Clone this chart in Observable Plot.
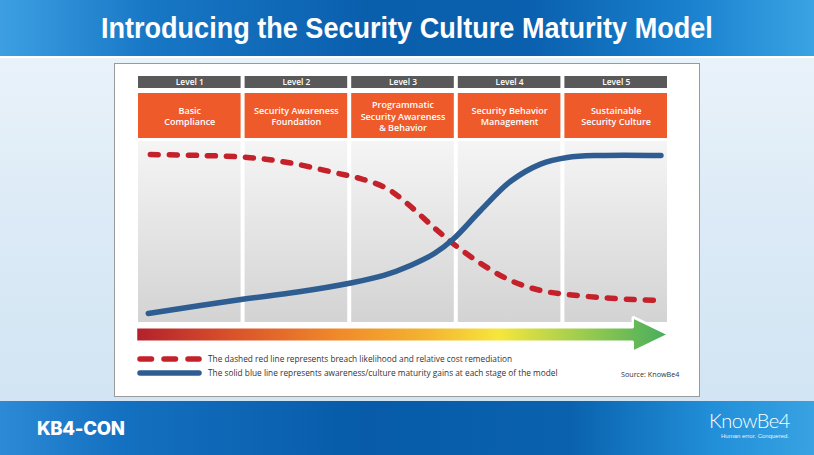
<!DOCTYPE html>
<html>
<head>
<meta charset="utf-8">
<script src="https://cdn.jsdelivr.net/npm/d3@7"></script>
<script src="https://cdn.jsdelivr.net/npm/@observablehq/plot@0.6"></script>
<style>
  html, body { margin:0; padding:0; }
  body { width:814px; height:455px; overflow:hidden; position:relative;
    background: linear-gradient(180deg, #eef5fb 0%, #dbeaf6 50%, #cfe3f2 100%);
    font-family: "Open Sans", "Liberation Sans", sans-serif; }
  #header { position:absolute; left:0; top:0; width:814px; height:56px;
    background: linear-gradient(90deg, #3d9fe2 0%, #1878c6 18%, #0a5fad 45%, #0a60ae 65%, #1a82cf 85%, #3aa3e3 100%);
    border-bottom: 2px solid #ffffff; }
  #title { position:absolute; left:0; top:10px; width:814px; text-align:center; color:#fff;
    font-family:"Liberation Sans Narrow","Liberation Sans", Arial, sans-serif; font-weight:bold; font-size:29px; line-height:36px; white-space:nowrap; }
  #title span { display:inline-block; transform-origin:center center; }
  #card { position:absolute; left:114px; top:63px; width:584px; height:332px; background:#fff; border:1px solid #9a9a9a; }
  .layer { position:absolute; left:116px; }
  .layer svg { display:block; }
  #legend { position:absolute; left:137px; top:351px; font-size:8.3px; color:#333; }
  .lrow { position:absolute; left:0; white-space:nowrap; height:14px; }
  .lrow svg { position:absolute; left:0; top:0; }
  .lrow span { position:absolute; left:71px; top:0px; line-height:14px; }
  #source { position:absolute; left:621px; top:369px; font-size:7.2px; color:#333; white-space:nowrap; }
  #footer { position:absolute; left:0; top:401px; width:814px; height:54px;
    background: linear-gradient(90deg, #2c8ad6 0%, #1470c0 15%, #075ba8 45%, #0a62ae 70%, #2290d9 88%, #38a2e2 100%); }
  #kb4 { position:absolute; left:37px; top:16px; color:#fff; font-family:"Inter","Liberation Sans",sans-serif; font-weight:800; font-size:18.5px; letter-spacing:-0.3px; }
  #kb { position:absolute; left:709px; top:7px; color:#fff; font-family:"Lato","Liberation Sans",sans-serif; font-weight:300; font-size:20px; line-height:24px; letter-spacing:-0.5px; }
  #kbsub { position:absolute; left:721px; top:32px; color:#e6f2fb; font-family:"Liberation Sans Narrow","Liberation Sans",sans-serif; font-size:6px; line-height:7px; white-space:nowrap; }
</style>
</head>
<body>
<div id="header"><div id="title"><span id="titletext">Introducing the Security Culture Maturity Model</span></div></div>
<div id="card"></div>
<div class="layer" id="levelsRow" style="top:76px"></div>
<div class="layer" id="stagesRow" style="top:93px"></div>
<div class="layer" id="panelsRow" style="top:141px"></div>
<div class="layer" id="arrowRow" style="top:317px"></div>
<div id="legend">
  <div class="lrow" style="top:1px">
    <svg width="66" height="14"><line x1="3" y1="7" x2="62" y2="7" stroke="#c4212b" stroke-width="5.5" stroke-linecap="round" stroke-dasharray="11.5,12.5"/></svg>
    <span>The dashed red line represents breach likelihood and relative cost remediation</span>
  </div>
  <div class="lrow" style="top:15px">
    <svg width="66" height="14"><line x1="3" y1="7" x2="62" y2="7" stroke="#2e5d92" stroke-width="5.5" stroke-linecap="round"/></svg>
    <span>The solid blue line represents awareness/culture maturity gains at each stage of the model</span>
  </div>
</div>
<div id="source">Source: KnowBe4</div>
<div id="footer">
  <div id="kb4">KB4-CON</div>
  <div id="kb">KnowBe4</div>
  <div id="kbsub">Human error. Conquered.</div>
</div>
<script>
// ---- data ----
const levels = ["Level 1", "Level 2", "Level 3", "Level 4", "Level 5"];
const stages = ["Basic\nCompliance", "Security Awareness\nFoundation", "Programmatic\nSecurity Awareness\n& Behavior", "Security Behavior\nManagement", "Sustainable\nSecurity Culture"];
// x position in level units (0..5), y in relative units (0..100)
const breachX = [0.13, 0.60, 1.04, 1.42, 1.85, 2.13, 2.35, 2.54, 2.79, 2.97, 3.23, 3.51, 3.79, 4.04, 4.35, 4.66, 4.89];
const breachY = [92.8, 92.3, 91.2, 88.4, 82.9, 79.0, 74.0, 65.7, 52.5, 43.6, 32.6, 23.2, 17.7, 15.5, 13.8, 12.7, 12.2];
const maturityX = [0.11, 0.98, 1.51, 2.01, 2.32, 2.57, 2.79, 2.97, 3.23, 3.51, 3.79, 4.04, 4.35, 4.92];
const maturityY = [5.0, 12.7, 16.8, 21.8, 26.0, 31.5, 38.0, 46.0, 62.0, 78.0, 87.5, 91.2, 92.3, 92.3];
// progress arrow outline (level units, relative half-height)
const arrowX  = [0, 4.66, 4.66, 5];
const arrowLo = [-0.41, -0.41, -1, 0];
const arrowHi = [0.41, 0.41, 1, 0];

const idx = levels.map((_, i) => i);
const breach = breachX.map((x, i) => ({x, y: breachY[i]}));
const maturity = maturityX.map((x, i) => ({x, y: maturityY[i]}));
const arrow = arrowX.map((x, i) => ({x, lo: arrowLo[i], hi: arrowHi[i]}));

const W = 583, ML = 20, MR = 30;
const base = {width: W, marginLeft: ML, marginRight: MR, marginTop: 0, marginBottom: 0,
  x: {domain: [0, 5], axis: null},
  style: {background: "transparent", fontFamily: "'Open Sans', sans-serif", overflow: "visible"}};

// Level header row
document.getElementById("levelsRow").append(Plot.plot({...base, height: 12,
  marks: [
    Plot.rect(idx, {x1: d => d, x2: d => d + 1, insetLeft: 2, insetRight: 2, fill: "#595959"}),
    Plot.text(idx, {x: d => d + 0.5, text: d => levels[d], frameAnchor: "middle", fill: "#fff", fontSize: 8.4, fontWeight: 600})
  ]}));

// Stage boxes row
document.getElementById("stagesRow").append(Plot.plot({...base, height: 45,
  marks: [
    Plot.rect(idx, {x1: d => d, x2: d => d + 1, insetLeft: 2, insetRight: 2, fill: "#ee5a2a"}),
    Plot.text(idx, {x: d => d + 0.5, text: d => stages[d], frameAnchor: "middle", lineHeight: 1.28, fill: "#fff", fontSize: 9, fontWeight: 600})
  ]}));

// Panels + curves
const panels = Plot.plot({...base, height: 181,
  y: {domain: [0, 100], axis: null},
  marks: [
    Plot.rect(idx, {x1: d => d, x2: d => d + 1, insetLeft: 2, insetRight: 2, fill: "url(#panelGrad)"}),
    Plot.line(breach, {x: "x", y: "y", stroke: "#c4212b", strokeWidth: 5.5, strokeLinecap: "round", strokeDasharray: "8,11", curve: "catmull-rom"}),
    Plot.line(maturity, {x: "x", y: "y", stroke: "#2e5d92", strokeWidth: 5.5, strokeLinecap: "round", curve: "catmull-rom"})
  ]});
const pd = d3.select(panels).insert("defs", ":first-child").append("linearGradient")
  .attr("id", "panelGrad").attr("x1", 0).attr("y1", 0).attr("x2", 0).attr("y2", 1);
pd.append("stop").attr("offset", "0%").attr("stop-color", "#f5f5f5");
pd.append("stop").attr("offset", "100%").attr("stop-color", "#d3d3d3");
document.getElementById("panelsRow").append(panels);

// Progress arrow
const arrowPlot = Plot.plot({...base, height: 35,
  y: {domain: [-1, 1], axis: null},
  marks: [
    Plot.areaY(arrow, {x: "x", y1: "lo", y2: "hi", fill: "url(#arrowGrad)", stroke: "#fff", strokeWidth: 2.5, strokeLinejoin: "miter", curve: "linear"})
  ]});
const ag = d3.select(arrowPlot).insert("defs", ":first-child").append("linearGradient")
  .attr("id", "arrowGrad").attr("x1", 0).attr("y1", 0).attr("x2", 1).attr("y2", 0);
[["0%", "#b3202c"], ["18%", "#d9522a"], ["38%", "#f08a2a"], ["55%", "#f4b532"], ["68%", "#f6e63c"], ["82%", "#a6cf4e"], ["100%", "#44ad5c"]]
  .forEach(([o, c]) => ag.append("stop").attr("offset", o).attr("stop-color", c));
document.getElementById("arrowRow").append(arrowPlot);

// Fit title width
const t = document.getElementById("titletext");
const w = t.getBoundingClientRect().width;
t.style.transform = `scaleX(${612 / w})`;
</script>
</body>
</html>
